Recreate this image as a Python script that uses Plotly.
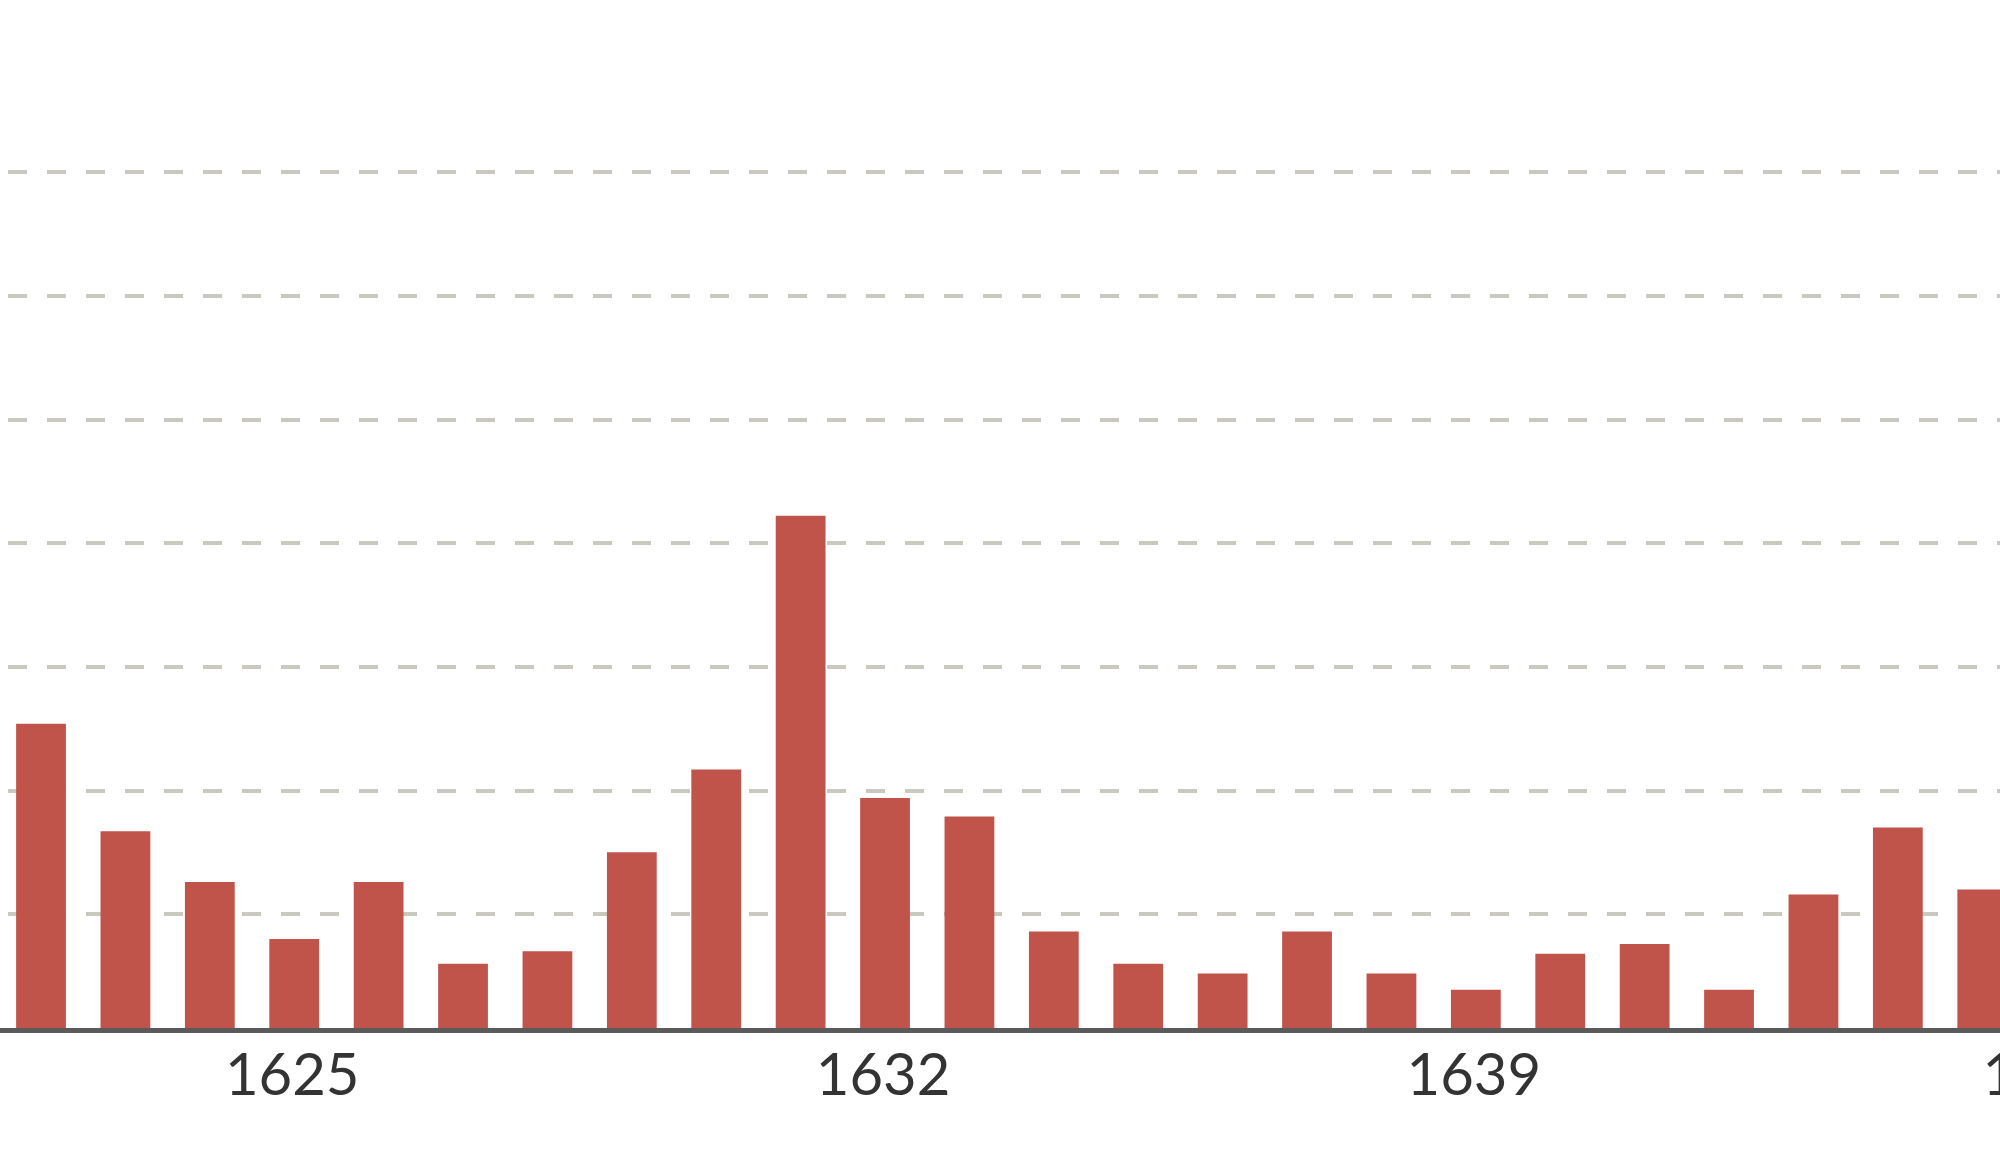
import plotly.graph_objects as go

years = list(range(1622, 1646))
values = [24.6, 15.9, 11.8, 7.2, 11.8, 5.2, 6.2, 14.2, 20.9, 41.4, 18.6, 17.1,
          7.8, 5.2, 4.4, 7.8, 4.4, 3.1, 6.0, 6.8, 3.1, 10.8, 16.2, 11.2]
tick_years = [1625, 1632, 1639, 1646]
tick_labels = ["1625", "1632", "1639", "1646\u00a0\u00a0"]
grid_values = [9.18, 19.18, 29.18, 39.18, 49.18, 59.18, 69.18]

fig = go.Figure(go.Bar(
    x=years, y=values,
    marker=dict(color="#C0544A", line=dict(width=0)),
    hoverinfo="x+y",
))

fig.update_layout(
    width=2200, height=1165,
    margin=dict(l=0, r=0, t=0, b=137, pad=0),
    paper_bgcolor="white", plot_bgcolor="white",
    bargap=0.41,
    showlegend=False,
    font=dict(family="Lato, Open Sans, sans-serif", color="#333333"),
)
fig.update_xaxes(
    range=[1621.514, 1647.58],
    tickmode="array", tickvals=tick_years, ticktext=tick_labels,
    tickfont=dict(size=58, color="#333333", family="Lato, Open Sans, sans-serif"),
    showgrid=False, zeroline=False,
    showline=True, linecolor="#5a5a5a", linewidth=5,
    ticks="", ticklabelstandoff=-8, ticklabelshift=-2,
)
fig.update_yaxes(
    range=[0, 83.1],
    tickmode="array", tickvals=grid_values, showticklabels=False,
    showgrid=True, gridcolor="#c9c9c0", gridwidth=4, griddash="0px,8px,19px,12px",
    zeroline=False, showline=False, ticks="",
)

fig.write_html(
    "out.html",
    config={"displayModeBar": False},
    post_script="document.body.style.margin='0';"
                "document.body.style.overflow='hidden';"
                "document.documentElement.style.overflow='hidden';",
)
